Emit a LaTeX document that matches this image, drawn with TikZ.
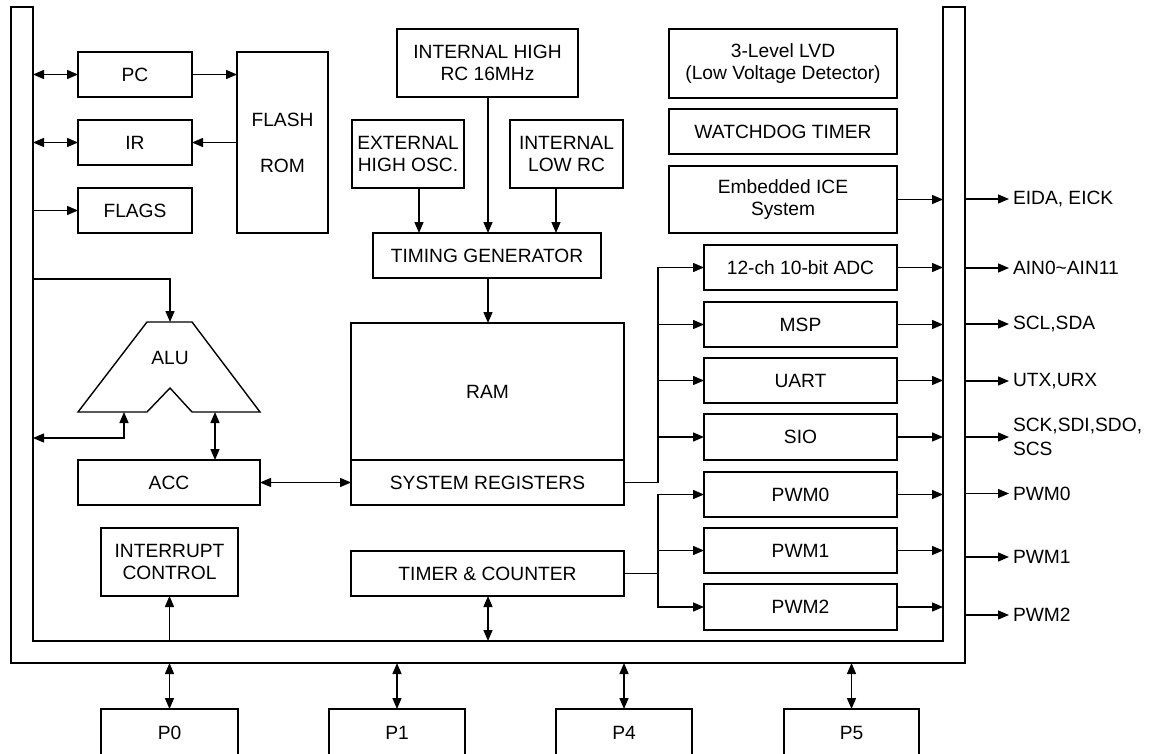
\documentclass[tikz,border=0pt]{standalone}
\usepackage{fontspec}
\setmainfont{Liberation Sans}
\usetikzlibrary{arrows.meta,calc}
\tikzset{
  txt/.style={font=\fontsize{19.2}{22.5}\selectfont},
  blk/.style={draw, line width=1.4pt, inner sep=0pt, outer sep=0pt, txt, align=center},
  ln/.style={line width=1.4pt},
  tip/.tip={Triangle[length=11pt,width=9pt]},
  arr/.style={ln, -tip},
  darr/.style={ln, tip-tip},
  lbl/.style={txt, anchor=west, inner sep=0pt, outer sep=0pt, align=left},
}
\begin{document}
\begin{tikzpicture}[x=1pt,y=-1pt]
\useasboundingbox (0,0) rectangle (1150,754);
\clip (0,0) rectangle (1150,754);
\fill[white] (0,0) rectangle (1150,754);

% bus reference coordinates
\coordinate (busL) at (33,0);
\coordinate (busR) at (943,0);
\coordinate (busB) at (0,641);
\coordinate (outR) at (965,0);
\coordinate (outB) at (0,663);

% U-shaped bus channel
\draw[ln] (11,7) -- (11,663) -- (965,663) -- (965,7) -- (943,7) -- (943,641) -- (33,641) -- (33,7) -- cycle;

% left column
\node[blk, minimum width=114, minimum height=45] (pc) at (135,74.5) {PC};
\node[blk, minimum width=114, minimum height=45] (ir) at (135,142.5) {IR};
\node[blk, minimum width=114, minimum height=45] (flags) at (135,210.5) {FLAGS};
\node[blk, minimum width=91, minimum height=181] (flash) at (282.5,142.5) {FLASH\\[23.5pt]ROM};

\draw[darr] (pc.west -| busL) -- (pc.west);
\draw[darr] (ir.west -| busL) -- (ir.west);
\draw[arr] (flags.west -| busL) -- (flags.west);
\draw[arr] (pc.east) -- (pc.east -| flash.west);
\draw[arr] (ir.east -| flash.west) -- (ir.east);

% ALU
\coordinate (alutop) at (170,322);
\coordinate (aluin) at (124,412);
\coordinate (aluacc) at (215,412);
\coordinate (alubus) at (33,279);
\coordinate (aluout) at (33,438);
\draw[ln, line join=miter] (147,322) -- (192,322) -- (260,412) -- (192,412) -- (170,388) -- (147,412) -- (78,412) -- cycle;
\node[txt, inner sep=0pt] (alu) at (170,358) {ALU};
\draw[arr] (alubus) -| (alutop);
\draw[darr] (aluout) -| (aluin);

\node[blk, minimum width=182, minimum height=45] (acc) at (169,482.5) {ACC};
\draw[darr] (aluacc) -- (aluacc |- acc.north);

\node[blk, minimum width=137, minimum height=68] (int) at (169.5,562) {INTERRUPT\\CONTROL};
\draw[arr] (int.south |- busB) -- (int.south);

% clock sources
\node[blk, minimum width=181, minimum height=68] (ihrc) at (487.5,63) {INTERNAL HIGH\\RC 16MHz};
\node[blk, minimum width=112, minimum height=68] (ext) at (408,154) {EXTERNAL\\HIGH OSC.};
\node[blk, minimum width=113, minimum height=68] (ilrc) at (566.5,154) {INTERNAL\\LOW RC};
\node[blk, minimum width=228, minimum height=45] (tg) at (487,255.5) {TIMING GENERATOR};
\draw[arr] ([xshift=11pt]ext.south) -- ([xshift=11pt]ext.south |- tg.north);
\draw[arr] (ihrc.south -| 488,0) -- (tg.north -| 488,0);
\draw[arr] ([xshift=-10.5pt]ilrc.south) -- ([xshift=-10.5pt]ilrc.south |- tg.north);

% RAM and system registers
\node[blk, minimum width=273, minimum height=137] (ram) at (487.5,391.5) {RAM};
\node[blk, minimum width=273, minimum height=45] (sreg) at (487.5,482.5) {SYSTEM REGISTERS};
\draw[arr] (tg.south -| 488,0) -- (ram.north -| 488,0);
\draw[darr] (acc.east) -- (sreg.west);

\node[blk, minimum width=273, minimum height=45] (tmr) at (487.5,573.5) {TIMER \& COUNTER};
\draw[darr] (tmr.south -| 488,0) -- (busB -| 488,0);

% right column
\node[blk, minimum width=228, minimum height=69] (lvd) at (783,63.5) {3-Level LVD\\(Low Voltage Detector)};
\node[blk, minimum width=228, minimum height=45] (wdt) at (783,131.5) {WATCHDOG TIMER};
\node[blk, minimum width=228, minimum height=67] (ice) at (783,199.5) {Embedded ICE\\System};
\node[blk, minimum width=193, minimum height=45] (adc) at (800.5,267.5) {12-ch 10-bit ADC};
\node[blk, minimum width=193, minimum height=45] (msp) at (800.5,324.5) {MSP};
\node[blk, minimum width=193, minimum height=45] (uart) at (800.5,380.5) {UART};
\node[blk, minimum width=193, minimum height=46] (sio) at (800.5,437) {SIO};
\node[blk, minimum width=193, minimum height=45] (pwma) at (800.5,494.5) {PWM0};
\node[blk, minimum width=193, minimum height=45] (pwmb) at (800.5,550.5) {PWM1};
\node[blk, minimum width=193, minimum height=46] (pwmc) at (800.5,607) {PWM2};

% branch lines
\coordinate (sbr) at (658,482.5);
\coordinate (tbr) at (658,573.5);
\draw[ln] (sreg.east) -- (sbr);
\draw[arr] (sbr) |- (adc.west);
\draw[arr] (sbr |- msp.west) -- (msp.west);
\draw[arr] (sbr |- uart.west) -- (uart.west);
\draw[arr] (sbr |- sio.west) -- (sio.west);
\draw[ln] (tmr.east) -- (tbr);
\draw[arr] (tbr) |- (pwma.west);
\draw[arr] (tbr |- pwmb.west) -- (pwmb.west);
\draw[arr] (tbr) |- (pwmc.west);

% to inner bus
\foreach \n in {ice,adc,msp,uart,sio,pwma,pwmb,pwmc}
  \draw[arr] (\n.east) -- (\n.east -| busR);

% outputs
\node[lbl] (oice) at (1013,199) {EIDA, EICK};
\node[lbl] (oadc) at (1013,268) {AIN0\textasciitilde AIN11};
\node[lbl] (omsp) at (1013,324) {SCL,SDA};
\node[lbl] (ouart) at (1013,381) {UTX,URX};
\node[lbl, font=\fontsize{19.2}{24}\selectfont] (osio) at (1013,437) {SCK,SDI,SDO,\\SCS};
\node[lbl] (opa) at (1013,493.5) {PWM0};
\node[lbl] (opb) at (1013,557) {PWM1};
\node[lbl] (opc) at (1013,615) {PWM2};
\foreach \n in {oice,oadc,omsp,ouart,osio,opa,opb,opc}
  \draw[arr] (\n.west -| outR) -- ([xshift=-4pt]\n.west);

% ports
\node[blk, minimum width=137, minimum height=47] (p0) at (169.5,732.5) {P0};
\node[blk, minimum width=136, minimum height=47] (p1) at (397,732.5) {P1};
\node[blk, minimum width=136, minimum height=47] (p4) at (624,732.5) {P4};
\node[blk, minimum width=135, minimum height=47] (p5) at (851.5,732.5) {P5};
\foreach \n in {p0,p1,p4,p5}
  \draw[darr] (\n.north |- outB) -- (\n.north);
\end{tikzpicture}
\end{document}
